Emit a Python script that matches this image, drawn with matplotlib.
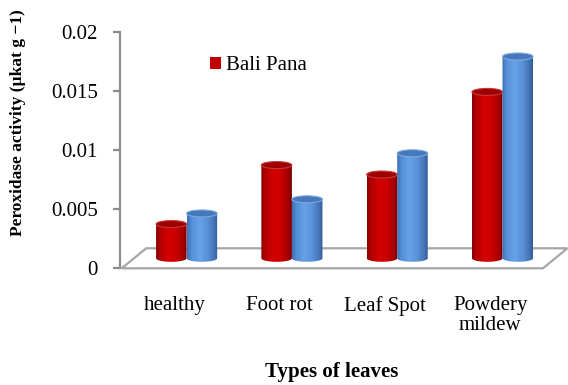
import numpy as np
import matplotlib
matplotlib.use("Agg")
import matplotlib.pyplot as plt
from matplotlib.patches import Ellipse, Polygon, Rectangle, PathPatch
from matplotlib.path import Path
from matplotlib.colors import LinearSegmentedColormap

# ---- data -------------------------------------------------------------
categories = ["healthy", "Foot rot", "Leaf Spot", "Powdery\nmildew"]
bali_pana = [0.0029, 0.0079, 0.0071, 0.0141]
second_variety = [0.0038, 0.0050, 0.0089, 0.0171]
y_ticks = [0, 0.005, 0.01, 0.015, 0.02]
y_tick_labels = ["0", "0.005", "0.01", "0.015", "0.02"]

plt.rcParams["font.family"] = ["Liberation Serif", "DejaVu Serif"]

# ---- figure / axes layout (pixel based) -------------------------------
W, H, DPI = 568, 385, 100
fig = plt.figure(figsize=(W / DPI, H / DPI), dpi=DPI)
ax_left, ax_right = 120, 568
ax_bot, ax_top = 268.3, 32.3
ax = fig.add_axes([ax_left / W, 1 - ax_bot / H,
                   (ax_right - ax_left) / W, (ax_bot - ax_top) / H])

band_px = 105.3          # width of one category band on the floor front
floor_x0_px = 121.7      # front-left corner of the floor
ax.set_xlim((ax_left - floor_x0_px) / band_px, (ax_right - floor_x0_px) / band_px)
ax.set_ylim(0, 0.02)

px_y = 0.02 / (ax_bot - ax_top)        # data units per vertical pixel
depth_dx = 24.5 / band_px              # perspective shift of the back edge
depth_dy = 20 * px_y
ell_h = 7 * px_y                       # height of the cylinder end caps

n = len(categories)

# ---- floor -----------------------------------------------------------
floor = Polygon([(0, 0), (n, 0), (n + depth_dx, depth_dy), (depth_dx, depth_dy)],
                closed=True, facecolor="white", edgecolor="#a6a6a6",
                lw=1.6, zorder=1, clip_on=False, joinstyle="miter")
ax.add_patch(floor)

# ---- cylinders ---------------------------------------------------------
red_cmap = LinearSegmentedColormap.from_list(
    "red_cyl", [(0, "#860000"), (0.12, "#b00000"), (0.4, "#d40000"),
                (0.62, "#cc0000"), (0.86, "#a80000"), (1, "#760000")])
blue_cmap = LinearSegmentedColormap.from_list(
    "blue_cyl", [(0, "#3c6fb0"), (0.15, "#558fd8"), (0.4, "#67a1e7"),
                 (0.65, "#5a93da"), (0.88, "#4474b6"), (1, "#315c96")])

bar_w = 0.29
base = depth_dy / 2
centers = np.arange(n) + 0.5 + depth_dx / 2

bars_r = ax.bar(centers - bar_w / 2, bali_pana, width=bar_w, bottom=base,
                color="none", edgecolor="none", zorder=2)
bars_b = ax.bar(centers + bar_w / 2, second_variety, width=bar_w, bottom=base,
                color="none", edgecolor="none", zorder=2)


def cylinder(rect, cmap, top_face, rim, z):
    x0, w = rect.get_x(), rect.get_width()
    y0, h = rect.get_y(), rect.get_height()
    xc, a, b = x0 + w / 2, w / 2, ell_h / 2
    t = np.linspace(np.pi, 2 * np.pi, 60)
    verts = [(x0, y0 + h), (x0, y0)]
    verts += list(zip(xc + a * np.cos(t), y0 + b * np.sin(t)))
    verts += [(x0 + w, y0 + h), (x0, y0 + h)]
    codes = [Path.MOVETO] + [Path.LINETO] * (len(verts) - 2) + [Path.CLOSEPOLY]
    body = PathPatch(Path(verts, codes), facecolor="none", edgecolor="none", zorder=z)
    ax.add_patch(body)
    grad = np.linspace(0, 1, 256)[None, :]
    im = ax.imshow(grad, cmap=cmap, extent=(x0, x0 + w, y0 - b, y0 + h),
                   aspect="auto", origin="lower", zorder=z, interpolation="bilinear")
    im.set_clip_path(body)
    ax.add_patch(Ellipse((xc, y0 + h), w, ell_h, facecolor=top_face,
                         edgecolor=rim, lw=0.8, zorder=z + 0.1))


for i in range(n):
    cylinder(bars_r[i], red_cmap, "#9e0000", "#c83a3a", 3 + i)
    cylinder(bars_b[i], blue_cmap, "#4678bb", "#7aa9e0", 3.5 + i)

ax.set_xlim((ax_left - floor_x0_px) / band_px, (ax_right - floor_x0_px) / band_px)
ax.set_ylim(0, 0.02)

# ---- axes styling -----------------------------------------------------
for s in ("top", "right", "bottom"):
    ax.spines[s].set_visible(False)
ax.spines["left"].set_color("#8c8c8c")
ax.spines["left"].set_linewidth(1.6)
ax.set_yticks(y_ticks)
ax.set_yticklabels(y_tick_labels)
ax.tick_params(axis="y", direction="out", length=5, width=1.6,
               color="#8c8c8c", pad=11, labelsize=15)
ax.set_xticks(np.arange(n) + 0.5)
ax.set_xticklabels(categories, fontsize=15, linespacing=1.1)
ax.tick_params(axis="x", length=0, pad=20)
ax.patch.set_visible(False)

fig.text(331.5 / W, 1 - 372 / H, "Types of leaves", ha="center", va="center",
         fontsize=15, fontweight="bold")
fig.text(18 / W, 1 - 122.5 / H, "Peroxidase activity (µkat g −1)", rotation=90,
         ha="center", va="center", fontsize=12.5, fontweight="bold")

fig.legend(handles=[Rectangle((0, 0), 1, 1, facecolor="#c00000", edgecolor="none")],
           labels=["Bali Pana"], loc="center left",
           bbox_to_anchor=(210 / W, 1 - 66 / H), frameon=False, borderpad=0,
           borderaxespad=0, handlelength=0.52, handleheight=0.52,
           handletextpad=0.25, fontsize=15)

fig.savefig("out.png", dpi=DPI, facecolor="white")
